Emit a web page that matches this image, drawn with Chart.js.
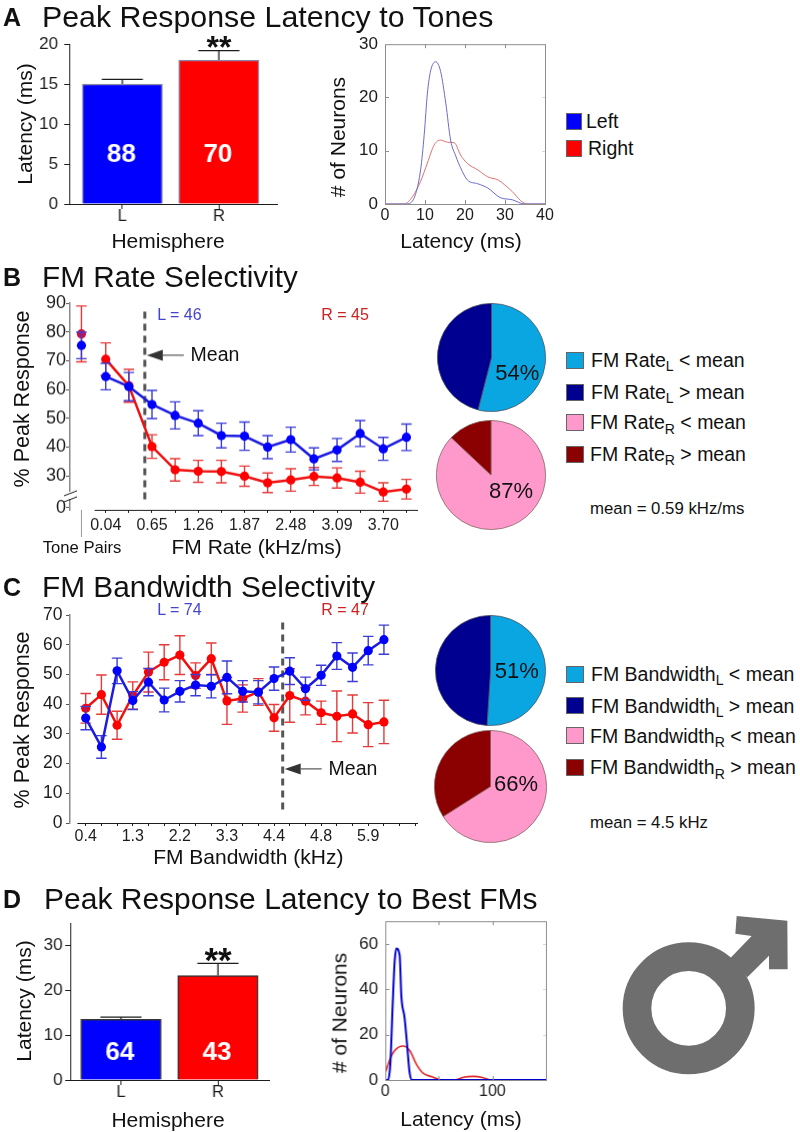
<!DOCTYPE html>
<html>
<head>
<meta charset="utf-8">
<title>Peak response latency</title>
<script src="https://cdn.jsdelivr.net/npm/chart.js@4"></script>
<style>
html,body{margin:0;padding:0;background:#fff;}
#page{position:relative;width:800px;height:1132px;overflow:hidden;font-family:'Liberation Sans',Arial,sans-serif;color:#111;}
#page canvas{position:absolute;}
.t{position:absolute;white-space:nowrap;line-height:1;}
.t sub{font-size:.72em;vertical-align:baseline;position:relative;top:.32em;line-height:0;}
.box{position:absolute;box-sizing:border-box;border:1px solid #666;}
</style>
</head>
<body>
<div id="page"></div>
<script>
const hemispheres=['L','R'];
const toneLatency=[15,18];
const toneLatencyErr=[0.6,1.2];
const toneCounts=['88','70'];
const fmLatency=[13.5,23.3];
const fmLatencyErr=[0.5,2.7];
const fmCounts=['64','43'];

const toneDistLeftX=[0,5.2,6.4,7.7,8.9,9.8,10.6,11.4,12.7,13.9,15.2,16.4,17.7,18.9,20.6,23.2,25.7,28.8,31.8,34.9,40];
const toneDistLeftY=[0,0,0.2,2,6.4,13,20.8,25,26.7,24.9,18.9,12,9,6.8,4.5,3.8,3,1.2,0.8,0,0];
const toneDistRightX=[0,4.8,6.9,8.9,10.6,12.3,13.9,15.6,17.3,18.9,20.6,23.2,25.7,28.3,31.3,35.5,40];
const toneDistRightY=[0,0,1.4,4.25,7.7,11.1,12,11.6,11.5,9.2,7.6,6.4,5.1,4.5,2.7,0,0];
const fmDistLeftX=[0,2.5,4.7,7,8.75,10.3,13.4,15,18,20.3,22.8,25,150];
const fmDistLeftY=[0,0,7,34,52,58,55,37,27.5,16,3,0,0];
const fmDistRightX=[0,4,8.8,16.6,22.8,29,35.3,43,52.5,65,73,82,91.5,98,150];
const fmDistRightY=[3,8.7,13,15,13,7,3,1.5,0,0,1.2,1.6,1,0,0];

const rateLabels=['0.04','','0.65','','1.26','','1.87','','2.48','','3.09','','3.70',''];
const rateLeft=[64.5,61,54.8,51,48.3,44,43.8,40,42.6,35.9,39,44.7,39.4,43.4];
const rateLeftErr=[4.6,4.9,4.9,4.7,4.3,4.3,4.9,4,4.3,3.8,4,4.5,4,4.6];
const rateRight=[70.5,61.3,40.2,32.1,31.6,31.5,29.9,27.6,28.6,29.8,29.3,27.8,24.4,25.4];
const rateRightErr=[5.7,5.7,4.1,3.9,3.8,3.9,3.5,3.4,3.9,3.1,3.5,3.8,3.2,3.4];
const toneLeft=75.3,toneLeftErr=4.6,toneRight=79.3,toneRightErr=9.7;
const rateTicks=[30,40,50,60,70,80,90];
const rateMeanIdx=1.69;

const bwLabels=['0.4','','','1.3','','','2.2','','','3.3','','','4.4','','','4.8','','','5.9','','',''];
const bwLeft=[35.3,25.6,51.2,41.2,47.4,41.4,44.3,46.4,46,49,44.3,44,48.6,51.1,45.2,49.7,56.2,52.4,58,61.7];
const bwLeftErr=[3.9,3.8,4.3,3,4.6,4,3.6,3.6,3.9,5.5,3.6,3.9,3.9,4.5,3.9,3.4,4.5,4.8,4.8,4.9];
const bwRight=[38.6,43.2,32.9,42.9,50.8,54.1,56.5,49.6,55.3,41.1,41.9,44.1,35.4,42.9,41,37.1,35.9,36.7,33.1,34];
const bwRightErr=[5,6.6,4.7,4.6,6.7,5.9,6.5,4.3,5.3,7.9,4.6,4.5,4.5,9,4.6,3.9,8.5,6.4,7.4,7.3];
const bwMeanIdx=12.55;

const pieRateLeft=[54,46],pieRateRight=[87,13],pieBwLeft=[51,49],pieBwRight=[66,34];

const FONT="'Liberation Sans',Arial,sans-serif";
const INK='#1c1c1c',BLUE='#0000ff',RED='#ff0000',CYAN='#0aa6e2',NAVY='#000090',PINK='#ff99cc',MAROON='#8b0000';
const page=document.getElementById('page');
Chart.defaults.font.family=FONT;
Chart.defaults.color=INK;
Chart.defaults.animation=false;
Chart.defaults.plugins.legend.display=false;
Chart.defaults.plugins.tooltip.enabled=false;

const text=(html,x,y,o={})=>{
  const d=document.createElement('div');
  d.className='t';
  d.innerHTML=html;
  d.style.cssText+=`left:${x}px;top:${y}px;font-size:${o.size||18}px;color:${o.color||'#111'};font-weight:${o.weight||'normal'};`+
    `transform:translate(${o.left?'0':'-50%'},-50%)${o.rot?' rotate(-90deg)':''}${o.sx?` scaleX(${o.sx})`:''};transform-origin:${o.left?'left':'center'} center;`;
  page.appendChild(d);
};
const box=(x,y,w,h,c)=>{
  const d=document.createElement('div');
  d.className='box';
  d.style.cssText+=`left:${x}px;top:${y}px;width:${w}px;height:${h}px;background:${c};`;
  page.appendChild(d);
};
// canvas sized so the chart area lands exactly on the given rectangle
const M={l:64,r:16,t:16,b:36};
const plot=(l,t,r,b,config)=>{
  const c=document.createElement('canvas');
  const w=r-l+M.l+M.r,h=b-t+M.t+M.b;
  c.width=w;c.height=h;
  c.style.cssText=`left:${l-M.l}px;top:${t-M.t}px;width:${w}px;height:${h}px;`;
  page.appendChild(c);
  config.options=Object.assign({responsive:false,layout:{autoPadding:false,padding:{top:M.t,right:M.r,left:0,bottom:0}}},config.options);
  for(const k of ['x','y']){
    const s=config.options.scales[k];
    s.afterFit=k==='x'?a=>{a.height=M.b;}:a=>{a.width=M.l;};
  }
  return new Chart(c,config);
};
const fixedTicks=values=>s=>{s.ticks=values.map(v=>({value:v}));};
const range=n=>[...Array(n).keys()];
const pair=(xs,ys)=>xs.map((x,i)=>({x,y:ys[i]}));

const errorBars={
  id:'errorBars',
  beforeDatasetDraw(chart,args){
    const ds=chart.data.datasets[args.index];
    if(!ds.errs)return;
    const y=chart.scales.y,ctx=chart.ctx,meta=chart.getDatasetMeta(args.index);
    ctx.save();
    ctx.strokeStyle=ds.errColor;
    ctx.lineWidth=ds.errWidth||1.4;
    meta.data.forEach((el,i)=>{
      const v=ds.data[i].y,hi=y.getPixelForValue(v+ds.errs[i]),lo=ds.upOnly?y.getPixelForValue(v):y.getPixelForValue(v-ds.errs[i]);
      ctx.beginPath();
      ctx.moveTo(el.x,hi);ctx.lineTo(el.x,lo);
      ctx.moveTo(el.x-ds.capW/2,hi);ctx.lineTo(el.x+ds.capW/2,hi);
      if(!ds.upOnly){ctx.moveTo(el.x-ds.capW/2,lo);ctx.lineTo(el.x+ds.capW/2,lo);}
      ctx.stroke();
    });
    ctx.restore();
  }
};
const barCounts={
  id:'barCounts',
  afterDatasetsDraw(chart){
    const ds=chart.data.datasets[0];
    const y=chart.scales.y,ctx=chart.ctx;
    ctx.save();
    ctx.fillStyle='#fff';
    ctx.font=`bold 26px ${FONT}`;
    ctx.textAlign='center';ctx.textBaseline='middle';
    chart.getDatasetMeta(0).data.forEach((el,i)=>ctx.fillText(ds.counts[i],el.x-1,y.getPixelForValue(ds.countY)));
    ctx.restore();
  }
};
const frame={
  id:'frame',
  afterDraw(chart){
    const a=chart.chartArea,ctx=chart.ctx,{x,y}=chart.scales;
    ctx.save();
    ctx.strokeStyle='#8d8d8d';ctx.lineWidth=1;
    ctx.strokeRect(a.left+.5,a.top+.5,a.right-a.left,a.bottom-a.top);
    ctx.beginPath();
    x.ticks.forEach(t=>{
      const p=Math.round(x.getPixelForValue(t.value))+.5;
      if(p<a.left+2||p>a.right-2)return;
      ctx.moveTo(p,a.top);ctx.lineTo(p,a.top+4);
      ctx.moveTo(p,a.bottom);ctx.lineTo(p,a.bottom-4);
    });
    y.ticks.forEach(t=>{
      const p=Math.round(y.getPixelForValue(t.value))+.5;
      if(p<a.top+2||p>a.bottom-2)return;
      ctx.moveTo(a.left,p);ctx.lineTo(a.left+4,p);
    });
    ctx.stroke();
    ctx.strokeStyle='#d9d9d9';
    ctx.beginPath();
    y.ticks.forEach(t=>{
      const p=Math.round(y.getPixelForValue(t.value))+.5;
      if(p<a.top+2||p>a.bottom-2)return;
      ctx.moveTo(a.right,p);ctx.lineTo(a.right-3,p);
    });
    ctx.stroke();
    ctx.restore();
  }
};
// x axis line starts right of the y axis, and the mean arrow
const selectivity={
  id:'selectivity',
  afterDraw(chart,args,o){
    const {x,y}=chart.scales,ctx=chart.ctx,a=chart.chartArea;
    ctx.save();
    ctx.strokeStyle=INK;ctx.lineWidth=1.2;
    ctx.beginPath();
    ctx.moveTo(x.getPixelForValue(o.baseFrom),a.bottom+.5);ctx.lineTo(a.right,a.bottom+.5);
    ctx.stroke();
    const px=x.getPixelForValue(o.mean)+2,py=y.getPixelForValue(o.arrowY);
    ctx.fillStyle='#333';ctx.strokeStyle='#333';ctx.lineWidth=1;
    ctx.beginPath();ctx.moveTo(px,py);ctx.lineTo(px+16,py-5.5);ctx.lineTo(px+16,py+5.5);ctx.closePath();ctx.fill();
    ctx.beginPath();ctx.moveTo(px+16,py);ctx.lineTo(px+o.arrowLen,py);ctx.stroke();
    ctx.restore();
  }
};
const axisBreak={
  id:'axisBreak',
  afterDraw(chart){
    const {x,y}=chart.scales,ctx=chart.ctx,a=chart.chartArea;
    ctx.save();
    ctx.fillStyle='#fff';
    ctx.fillRect(a.left-2,a.bottom-18,5,7);
    ctx.strokeStyle=INK;ctx.lineWidth=1;
    ctx.beginPath();
    ctx.moveTo(a.left-6,a.bottom-14);ctx.lineTo(a.left+7,a.bottom-19);
    ctx.moveTo(a.left-6,a.bottom-8);ctx.lineTo(a.left+7,a.bottom-13);
    ctx.stroke();
    const p=x.getPixelForValue(-1.05);
    ctx.strokeStyle='#999';ctx.lineWidth=1;
    ctx.beginPath();ctx.moveTo(p,a.bottom);ctx.lineTo(p,a.bottom+27);ctx.stroke();
    ctx.restore();
  }
};

const barChart=(rect,vals,errs,counts,countY,edge,xMin,xMax,yMax,step,labelEvery,yPad)=>plot(...rect,{
  type:'bar',
  data:{datasets:[{data:[{x:1,y:vals[0]},{x:2,y:vals[1]}],errs,upOnly:true,errColor:INK,errWidth:1.3,capW:41,counts,countY,
    backgroundColor:[BLUE,RED],borderColor:edge,borderWidth:1.5,barThickness:80}]},
  options:{scales:{
    x:{type:'linear',offset:false,min:xMin,max:xMax,afterBuildTicks:fixedTicks([1,2]),
      grid:{offset:false,drawOnChartArea:false,color:INK,tickLength:5},border:{color:INK},
      ticks:{callback:v=>hemispheres[v-1],font:{size:16.5},padding:-2,autoSkip:false,maxRotation:0}},
    y:{min:0,max:yMax,grid:{drawOnChartArea:false,color:INK,tickLength:5},border:{color:INK},
      ticks:{stepSize:step,font:{size:17},padding:yPad,callback:v=>v%labelEvery===0?v:''}}
  }},
  plugins:[errorBars,barCounts]
});
const distChart=(rect,left,right,xMax,xStep,xShow,yMax,yStep,yShow,wL,wR,cL,cR)=>plot(...rect,{
  type:'line',
  data:{datasets:[
    {data:left,borderColor:cL,borderWidth:wL,pointRadius:0,cubicInterpolationMode:'monotone'},
    {data:right,borderColor:cR,borderWidth:wR,pointRadius:0,cubicInterpolationMode:'monotone'}
  ]},
  options:{scales:{
    x:{type:'linear',min:0,max:xMax,grid:{display:false,drawTicks:false},border:{display:false},
      ticks:{stepSize:xStep,font:{size:16},padding:2,maxRotation:0,callback:v=>xShow.includes(v)?v:''}},
    y:{min:0,max:yMax,grid:{display:false,drawTicks:false},border:{display:false},
      ticks:{stepSize:yStep,font:{size:17},padding:7,callback:v=>yShow.includes(v)?v:''}}
  }},
  plugins:[frame]
});
const pie=(cx,cy,r,vals,colors,edge)=>{
  const c=document.createElement('canvas'),s=Math.round(2*r+2);
  c.width=s;c.height=s;
  c.style.cssText=`left:${cx-s/2}px;top:${cy-s/2}px;width:${s}px;height:${s}px;`;
  page.appendChild(c);
  new Chart(c,{type:'pie',data:{datasets:[{data:vals,backgroundColor:colors,borderColor:edge,borderWidth:.8}]},options:{responsive:false}});
};
const lineSets=(left,leftErr,right,rightErr,meanIdx,meanTop,meanBottom,extra)=>[
  {data:pair(range(left.length),left),errs:leftErr,errColor:'#3c3cd6',capW:10.5,borderColor:'#1c1ce0',backgroundColor:BLUE,borderWidth:2.5,pointRadius:4.6,pointBorderWidth:0},
  {data:pair(range(right.length),right),errs:rightErr,errColor:'#e63a3a',capW:10.5,borderColor:'#f01010',backgroundColor:RED,borderWidth:2.5,pointRadius:4.6,pointBorderWidth:0},
  ...extra,
  {data:[{x:meanIdx,y:meanTop},{x:meanIdx,y:meanBottom}],borderColor:'#565656',borderWidth:3,borderDash:[7,5],pointRadius:0}
];

// A
barChart([69.4,43.7,276.7,204.3],toneLatency,toneLatencyErr,toneCounts,6.1,'#8a8aa8',0.45,2.602,20,5,5,6);
distChart([384.5,43.3,545,204.3],pair(toneDistLeftX,toneDistLeftY),pair(toneDistRightX,toneDistRightY),40,10,[0,10,20,30,40],30,10,[0,10,20,30],1,1,'#6a6ac8','#e07070');

// B
plot(70.3,303.3,418.3,510,{
  type:'line',
  data:{datasets:lineSets(rateLeft,rateLeftErr,rateRight,rateRightErr,rateMeanIdx,87,20.6,[
    {data:[{x:-1.05,y:toneLeft}],errs:[toneLeftErr],errColor:'#3c3cd6',capW:10.5,backgroundColor:BLUE,showLine:false,pointRadius:4.6,pointBorderWidth:0},
    {data:[{x:-1.05,y:toneRight}],errs:[toneRightErr],errColor:'#e63a3a',capW:10.5,backgroundColor:'#d01040',showLine:false,pointRadius:4.6,pointBorderWidth:0}
  ])},
  options:{
    plugins:{selectivity:{baseFrom:-0.48,mean:rateMeanIdx,arrowY:71.9,arrowLen:37}},
    scales:{
      x:{type:'linear',min:-1.545,max:13.5,afterBuildTicks:fixedTicks(range(14)),
        grid:{drawOnChartArea:false,color:INK,tickLength:3},border:{display:false},
        ticks:{callback:v=>rateLabels[v],font:{size:16},padding:3,autoSkip:false,maxRotation:0}},
      y:{min:18.2,max:90,afterBuildTicks:fixedTicks([18.9,...rateTicks]),
        grid:{drawOnChartArea:false,color:'#555',tickLength:4},border:{color:'#8a8a8a',width:1.5},
        ticks:{font:{size:18},padding:0,callback:v=>v<20?'0':v}}
    }
  },
  plugins:[errorBars,selectivity,axisBreak]
});
pie(491,357.7,53.7,pieRateLeft,[CYAN,NAVY],'#556');
pie(491.3,475.3,54,pieRateRight,[PINK,MAROON],'#866');

// C
plot(70.3,615.3,418.3,823.3,{
  type:'line',
  data:{datasets:lineSets(bwLeft,bwLeftErr,bwRight,bwRightErr,bwMeanIdx,67.5,3.1,[])},
  options:{
    plugins:{selectivity:{baseFrom:-0.53,mean:bwMeanIdx,arrowY:18.2,arrowLen:37}},
    scales:{
      x:{type:'linear',min:-1,max:21.17,afterBuildTicks:fixedTicks(range(22)),
        grid:{drawOnChartArea:false,color:INK,tickLength:3},border:{display:false},
        ticks:{callback:v=>bwLabels[v],font:{size:16},padding:1,autoSkip:false,maxRotation:0}},
      y:{min:0,max:70,grid:{drawOnChartArea:false,color:'#555',tickLength:4},border:{color:'#8a8a8a',width:1.5},
        ticks:{stepSize:10,font:{size:17.5},padding:3.5}}
    }
  },
  plugins:[errorBars,selectivity]
});
pie(490.7,670.7,54.7,pieBwLeft,[CYAN,NAVY],'#556');
pie(490.8,786.3,55.7,pieBwRight,[PINK,MAROON],'#866');

// D
barChart([69.9,922.8,268.6,1080.3],fmLatency,fmLatencyErr,fmCounts,6.1,'#333',0.477,2.526,35,5,10,2.5);
distChart([385.1,919.7,545.7,1080.3],pair(fmDistLeftX,fmDistLeftY),pair(fmDistRightX,fmDistRightY),150,50,[0,100],70,10,[0,20,40,60],2,1.6,'#0000cc','#dd2a2a');

// headings and axis titles
const heads=[['A',17,'Peak Response Latency to Tones',42,1.011],['B',277,'FM Rate Selectivity',42,0.99],['C',587,'FM Bandwidth Selectivity',42,0.994],['D',899,'Peak Response Latency to Best FMs',44,1]];
heads.forEach(([k,y,s,x,sx])=>{
  text(k,3,y,{size:25,weight:'bold',left:true});
  text(s,x,y,{size:30,left:true,sx});
});
text('Latency (ms)',24,124,{size:21,rot:true});
text('Hemisphere',168,240,{size:21});
text('# of Neurons',337,137,{size:21,rot:true});
text('Latency (ms)',461,240,{size:21});
text('**',219,47,{size:32,weight:'bold'});
text('Left',586,122,{size:19.5,left:true});
text('Right',588,149,{size:19.5,left:true});
box(566,113,16,17,BLUE);
box(566,140,16,17,RED);

text('% Peak Response',22.7,399,{size:21.5,rot:true});
text('FM Rate (kHz/ms)',256.7,546,{size:21});
text('Tone Pairs',81.7,547,{size:17,sx:0.98});
text('L = 46',179.5,315,{size:16,color:'#4444cc'});
text('R = 45',345,315,{size:16,color:'#cc2222'});
text('Mean',215,355,{size:19.5});
text('54%',517.3,372.7,{size:22});
text('87%',511,491,{size:22});
const rateRows=[['FM Rate<sub>L</sub> &lt; mean',352.3,361,591,CYAN],['FM Rate<sub>L</sub> &gt; mean',384.3,392.7,591,NAVY],['FM Rate<sub>R</sub> &lt; mean',414.3,423.3,590,PINK],['FM Rate<sub>R</sub> &gt; mean',446,454.7,590,MAROON]];
const bwRows=[['FM Bandwidth<sub>L</sub> &lt; mean',665.7,675,591,CYAN],['FM Bandwidth<sub>L</sub> &gt; mean',697.3,706.7,591,NAVY],['FM Bandwidth<sub>R</sub> &lt; mean',727.3,736.7,590,PINK],['FM Bandwidth<sub>R</sub> &gt; mean',759.3,768.3,590,MAROON]];
[...rateRows,...bwRows].forEach(([s,by,ty,x,c])=>{
  box(566,by,18,17,c);
  text(s,x,ty,{size:19.5,left:true});
});
text('mean = 0.59 kHz/ms',590,509.3,{size:16.8,left:true});

text('% Peak Response',22.7,720,{size:21.5,rot:true});
text('FM Bandwidth (kHz)',248.3,855.7,{size:21});
text('L = 74',179.5,610,{size:16,color:'#4444cc'});
text('R = 47',345,610,{size:16,color:'#cc2222'});
text('Mean',353,769.3,{size:19.5});
text('51%',516.7,671,{size:22});
text('66%',516,784,{size:22});
text('mean = 4.5 kHz',590,823.3,{size:16.8,left:true});

text('Latency (ms)',23,1001,{size:21,rot:true});
text('Hemisphere',168,1118.7,{size:21});
text('# of Neurons',339,1013,{size:21,rot:true});
text('Latency (ms)',461,1118,{size:21});
text('**',218,959,{size:35,weight:'bold'});

// male symbol
page.insertAdjacentHTML('beforeend','<svg style="position:absolute;left:560px;top:890px" width="240" height="240" viewBox="0 0 720 720"><circle cx="386" cy="355" r="155" fill="none" stroke="#6e6e6e" stroke-width="86"/><polygon fill="#6e6e6e" points="530,78 682,92 683,238 627,238 627,197 562,262 512,203 575,138 526,131"/></svg>');
</script>
</body>
</html>
